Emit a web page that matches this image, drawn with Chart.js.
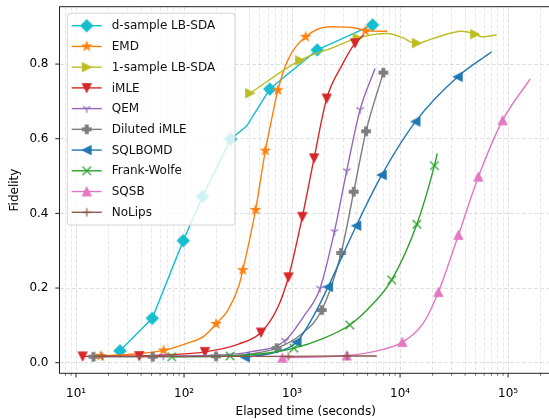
<!DOCTYPE html>
<html>
<head>
<meta charset="utf-8">
<script src="https://cdn.jsdelivr.net/npm/chart.js@4.4.1/dist/chart.umd.min.js"></script>
<style>
  html, body { margin: 0; padding: 0; background: #fff; overflow: hidden; }
  canvas { position: absolute; left: 0; top: 0; }
</style>
</head>
<body>
<canvas id="chart" width="560" height="419"></canvas>
<script>
// Series data (elapsed time in seconds, fidelity)
const seriesNames = ['d-sample LB-SDA', 'EMD', '1-sample LB-SDA', 'iMLE', 'QEM', 'Diluted iMLE', 'SQLBOMD', 'Frank-Wolfe', 'SQSB', 'NoLips'];
const seriesColors = ['#17becf', '#ff7f0e', '#bcbd22', '#d62728', '#9467bd', '#7f7f7f', '#1f77b4', '#2ca02c', '#e377c2', '#8c564b'];
const seriesMarkers = ['D', '*', '>', 'v', '1', 'P', '<', 'x', '^', '+'];

const dsampleTime = [25.5, 50.8, 98.4, 148, 270, 380, 622, 1710, 5570];
const dsampleFid = [0.032, 0.119, 0.327, 0.445, 0.599, 0.634, 0.733, 0.838, 0.905];
const dsampleMarks = [0, 1, 2, 3, 4, 6, 7, 8];

const emdTime = [16.9, 30, 64.7, 106, 151, 198, 255, 320, 350, 459, 566, 650, 739, 912, 1334, 2240, 3980, 4775, 7600];
const emdFid = [0.018, 0.022, 0.033, 0.052, 0.070, 0.104, 0.141, 0.204, 0.248, 0.409, 0.568, 0.655, 0.730, 0.810, 0.873, 0.900, 0.896, 0.889, 0.888];
const emdMarks = [0, 2, 5, 8, 9, 10, 12, 14, 17];

const onesampleTime = [408, 1186, 2590, 4040, 7530, 10700, 12800, 14300, 20000, 37200, 49400, 57000, 78500];
const onesampleFid = [0.722, 0.810, 0.848, 0.870, 0.882, 0.870, 0.858, 0.856, 0.868, 0.888, 0.880, 0.873, 0.878];
const onesampleMarks = [0, 1, 3, 7, 10];

const imleTime = [11.5, 38.5, 80, 156, 320, 516, 729, 925, 1245, 1600, 2094, 2900, 3830, 4600];
const imleFid = [0.017, 0.018, 0.022, 0.029, 0.050, 0.081, 0.145, 0.229, 0.391, 0.548, 0.708, 0.797, 0.856, 0.878];
const imleMarks = [0, 1, 3, 5, 7, 8, 9, 10, 12];

const qemTime = [64.3, 200, 408, 861, 1273, 1815, 2465, 3205, 4266, 5870];
const qemFid = [0.018, 0.020, 0.029, 0.059, 0.123, 0.199, 0.351, 0.514, 0.678, 0.788];
const qemMarks = [0, 3, 5, 6, 7, 8];

const dilutedTime = [14.5, 51.3, 198, 450, 721, 1200, 1884, 2845, 3724, 4840, 7000];
const dilutedFid = [0.016, 0.016, 0.017, 0.025, 0.039, 0.075, 0.141, 0.294, 0.458, 0.620, 0.777];
const dilutedMarks = [0, 1, 2, 4, 6, 7, 8, 9, 10];

const sqlbomdTime = [367, 700, 1101, 1600, 2155, 3935, 6773, 13900, 34200, 70600];
const sqlbomdFid = [0.0145, 0.028, 0.055, 0.128, 0.203, 0.367, 0.503, 0.646, 0.766, 0.833];
const sqlbomdMarks = [0, 2, 4, 5, 6, 7, 8];

const fwTime = [76.9, 267, 600, 1040, 1900, 3420, 5500, 8370, 14300, 20800, 22100];
const fwFid = [0.016, 0.018, 0.026, 0.039, 0.064, 0.101, 0.155, 0.222, 0.371, 0.528, 0.561];
const fwMarks = [0, 1, 3, 5, 7, 8, 9];

const sqsbTime = [813, 3205, 6000, 10500, 16400, 22600, 34700, 53100, 88900, 160000];
const sqsbFid = [0.013, 0.019, 0.031, 0.055, 0.106, 0.189, 0.342, 0.498, 0.649, 0.760];
const sqsbMarks = [0, 1, 3, 5, 6, 7, 8];

const nolipsTime = [14.5, 17.5, 925, 3250, 6080];
const nolipsFid = [0.017, 0.017, 0.017, 0.018, 0.018];
const nolipsMarks = [1, 2, 3];

const seriesTimes = [dsampleTime, emdTime, onesampleTime, imleTime, qemTime, dilutedTime, sqlbomdTime, fwTime, sqsbTime, nolipsTime];
const seriesFids = [dsampleFid, emdFid, onesampleFid, imleFid, qemFid, dilutedFid, sqlbomdFid, fwFid, sqsbFid, nolipsFid];
const seriesMarks = [dsampleMarks, emdMarks, onesampleMarks, imleMarks, qemMarks, dilutedMarks, sqlbomdMarks, fwMarks, sqsbMarks, nolipsMarks];

// Axis ticks
const xTickValues = [10, 100, 1000, 10000, 100000];
const xTickLabels = ['10\u00B9', '10\u00B2', '10\u00B3', '10\u2074', '10\u2075'];
const yTickValues = [0.0, 0.2, 0.4, 0.6, 0.8];

const FONT = '"DejaVu Sans", sans-serif';
const MS = 8.5; // marker size in px

// Draw matplotlib-like markers into small canvases
function makeMarker(shape, color) {
    const c = document.createElement('canvas');
    c.width = 18; c.height = 18;
    const g = c.getContext('2d');
    const r = MS / 2;
    g.translate(9, 9);
    g.fillStyle = color;
    g.strokeStyle = color;
    g.lineWidth = 1.2;
    g.beginPath();
    const poly = pts => {
        g.moveTo(pts[0][0], pts[0][1]);
        pts.slice(1).forEach(p => g.lineTo(p[0], p[1]));
        g.closePath();
    };
    let filled = true;
    if (shape === 'D') {
        const d = r * Math.SQRT2 * 0.98;
        poly([[0, -d], [d, 0], [0, d], [-d, 0]]);
    } else if (shape === '*') {
        const pts = [];
        for (let k = 0; k < 10; k++) {
            const rr = k % 2 === 0 ? r : r * 0.382;
            const a = -Math.PI / 2 + k * Math.PI / 5;
            pts.push([rr * Math.cos(a), rr * Math.sin(a)]);
        }
        poly(pts);
    } else if (shape === '>') {
        poly([[r, 0], [-r, -r], [-r, r]]);
    } else if (shape === '<') {
        poly([[-r, 0], [r, -r], [r, r]]);
    } else if (shape === 'v') {
        poly([[0, r], [-r, -r], [r, -r]]);
    } else if (shape === '^') {
        poly([[0, -r], [-r, r], [r, r]]);
    } else if (shape === 'P') {
        const a = MS / 6;
        poly([[-a, -r], [a, -r], [a, -a], [r, -a], [r, a], [a, a], [a, r], [-a, r], [-a, a], [-r, a], [-r, -a], [-a, -a]]);
    } else if (shape === '1') {
        filled = false;
        g.moveTo(0, 0); g.lineTo(0, r);
        g.moveTo(0, 0); g.lineTo(-0.866 * r, -0.5 * r);
        g.moveTo(0, 0); g.lineTo(0.866 * r, -0.5 * r);
    } else if (shape === 'x') {
        filled = false;
        g.moveTo(-r, -r); g.lineTo(r, r);
        g.moveTo(-r, r); g.lineTo(r, -r);
    } else if (shape === '+') {
        filled = false;
        g.moveTo(-r, 0); g.lineTo(r, 0);
        g.moveTo(0, -r); g.lineTo(0, r);
    }
    if (filled) g.fill();
    g.stroke();
    return c;
}

const markerImages = seriesMarkers.map((m, i) => makeMarker(m, seriesColors[i]));

// Build datasets
const datasets = seriesNames.map((name, i) => ({
    label: name,
    data: seriesTimes[i].map((t, j) => ({ x: t, y: seriesFids[i][j] })),
    borderColor: seriesColors[i],
    backgroundColor: seriesColors[i],
    borderWidth: 1.4,
    cubicInterpolationMode: i === 0 ? 'default' : 'monotone',
    tension: 0,
    pointStyle: markerImages[i],
    pointRadius: ctx => seriesMarks[i].includes(ctx.dataIndex) ? 5 : 0,
    order: seriesNames.length - i
}));

// Matplotlib-style frame, tick marks and legend
const framePlugin = {
    id: 'frame',
    afterDatasetsDraw(chart) {
        const { ctx, chartArea: a } = chart;
        // legend box
        const lx = 67.3, ly = 13.3, lw = 167.7, lh = 211.7;
        ctx.save();
        ctx.beginPath();
        ctx.roundRect(lx, ly, lw, lh, 3);
        ctx.fillStyle = 'rgba(255,255,255,0.8)';
        ctx.fill();
        ctx.strokeStyle = 'rgba(204,204,204,0.8)';
        ctx.lineWidth = 1;
        ctx.stroke();
        ctx.font = '12px ' + FONT;
        ctx.textBaseline = 'middle';
        ctx.textAlign = 'left';
        seriesNames.forEach((name, i) => {
            const y = 25.7 + i * 20.73;
            ctx.beginPath();
            ctx.moveTo(71.7, y);
            ctx.lineTo(101.7, y);
            ctx.strokeStyle = seriesColors[i];
            ctx.lineWidth = 1.4;
            ctx.stroke();
            const img = markerImages[i];
            ctx.drawImage(img, 86.7 - img.width / 2, y - img.height / 2);
            ctx.fillStyle = '#111';
            ctx.fillText(name, 111.7, y + 0.5);
        });
        ctx.restore();
    },
    afterDraw(chart) {
        const { ctx, chartArea: a, scales } = chart;
        ctx.save();
        ctx.strokeStyle = '#222';
        ctx.lineWidth = 1;
        ctx.strokeRect(a.left, a.top, a.right - a.left, a.bottom - a.top);
        // x tick marks
        scales.x.ticks.forEach(t => {
            const px = scales.x.getPixelForValue(t.value);
            const major = xTickValues.includes(t.value);
            ctx.beginPath();
            ctx.lineWidth = major ? 1 : 0.7;
            ctx.moveTo(px, a.bottom);
            ctx.lineTo(px, a.bottom + (major ? 4.2 : 2.4));
            ctx.stroke();
        });
        // y tick marks
        scales.y.ticks.forEach(t => {
            const py = scales.y.getPixelForValue(t.value);
            ctx.beginPath();
            ctx.lineWidth = 1;
            ctx.moveTo(a.left, py);
            ctx.lineTo(a.left - 4.2, py);
            ctx.stroke();
        });
        ctx.restore();
    }
};

new Chart(document.getElementById('chart'), {
    type: 'line',
    data: { datasets },
    plugins: [framePlugin],
    options: {
        responsive: false,
        animation: false,
        events: [],
        devicePixelRatio: 1,
        layout: { padding: { top: 6.7, right: 8, left: 0, bottom: 0 } },
        plugins: {
            legend: { display: false },
            tooltip: { enabled: false }
        },
        scales: {
            x: {
                type: 'logarithmic',
                min: 7.03,
                max: 255000,
                afterBuildTicks: scale => {
                    const ticks = [];
                    for (let e = 0; e <= 5; e++) {
                        for (let m = 1; m <= 9; m++) {
                            const v = m * Math.pow(10, e);
                            if (v >= scale.min && v <= scale.max) ticks.push({ value: v });
                        }
                    }
                    scale.ticks = ticks;
                },
                afterFit: scale => {
                    scale.height = 45.7;
                    scale.paddingLeft = 0;
                    scale.paddingRight = 0;
                },
                ticks: {
                    autoSkip: false,
                    maxRotation: 0,
                    padding: 13.5,
                    color: '#000',
                    font: { family: FONT, size: 12 },
                    callback: value => {
                        const k = xTickValues.indexOf(value);
                        return k >= 0 ? xTickLabels[k] : '';
                    }
                },
                grid: {
                    drawTicks: false,
                    lineWidth: 0.8,
                    color: ctx => xTickValues.includes(ctx.tick && ctx.tick.value) ? 'rgba(0,0,0,0.16)' : 'rgba(0,0,0,0.11)'
                },
                border: { display: false, dash: [4, 2] },
                title: {
                    display: true,
                    text: 'Elapsed time (seconds)',
                    color: '#000',
                    font: { family: FONT, size: 12 },
                    padding: { top: 0, bottom: 0 }
                }
            },
            y: {
                type: 'linear',
                min: -0.0284,
                max: 0.9537,
                afterBuildTicks: scale => {
                    scale.ticks = yTickValues.map(v => ({ value: v }));
                },
                afterFit: scale => {
                    scale.width = 59.5;
                    scale.paddingTop = 0;
                    scale.paddingBottom = 0;
                },
                ticks: {
                    padding: 11,
                    color: '#000',
                    font: { family: FONT, size: 12 },
                    callback: value => value.toFixed(1)
                },
                grid: {
                    drawTicks: false,
                    lineWidth: 0.8,
                    color: 'rgba(0,0,0,0.16)'
                },
                border: { display: false, dash: [4, 2] },
                title: {
                    display: true,
                    text: 'Fidelity',
                    color: '#000',
                    font: { family: FONT, size: 12 },
                    padding: { top: 7.8, bottom: 0 }
                }
            }
        }
    }
});
</script>
</body>
</html>
